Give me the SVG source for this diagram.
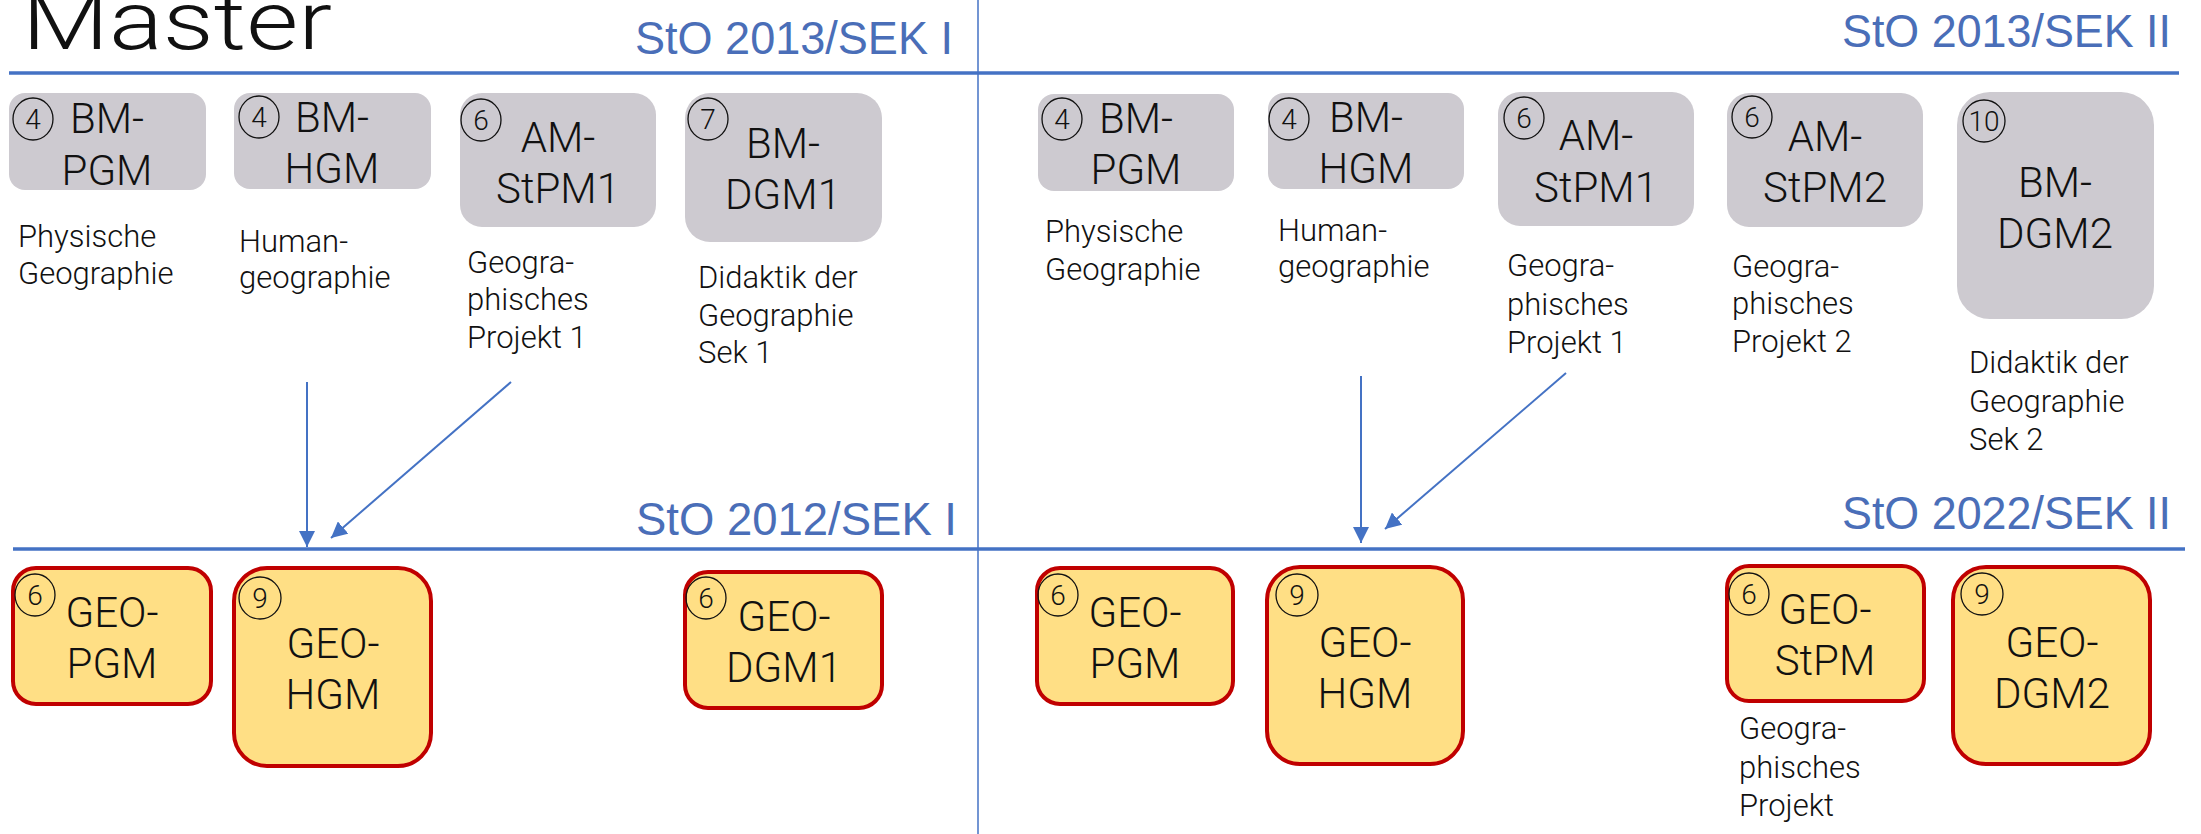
<svg xmlns="http://www.w3.org/2000/svg" width="2201" height="834" viewBox="0 0 2201 834">
<style>
.bg{fill:#ffffff}
.gray{fill:#CDCAD0}
.yel{fill:#FFDF85;stroke:#C00000;stroke-width:4}
.rule{stroke:#4472C4;stroke-width:3.5;fill:none}
.vrule{stroke:#4472C4;stroke-width:1.5;fill:none}
.conn{stroke:#4472C4;stroke-width:2;fill:none}
.lbl{font-family:"Liberation Sans",Arial,sans-serif;font-size:46px;fill:#4A6EB8}
.t{font-family:Roboto,"DejaVu Sans",sans-serif;font-weight:300;fill:#111}
.big{font-size:42px;text-anchor:middle}
.desc{font-size:31px}
.num{font-size:28px;text-anchor:middle}
.circ{fill:none;stroke:#111;stroke-width:1.3}
</style>
<defs>
<marker id="ah" viewBox="0 0 10 10" refX="10" refY="5" markerWidth="16" markerHeight="16" markerUnits="userSpaceOnUse" orient="auto">
<path d="M0,0 L10,5 L0,10 z" fill="#4472C4"/>
</marker>
</defs>
<rect class="bg" x="0" y="0" width="2201" height="834"/>

<g id="header">
<text class="t" x="22" y="49" font-size="82" textLength="310" lengthAdjust="spacingAndGlyphs">Master</text>
<text class="lbl" x="635" y="54" textLength="318" lengthAdjust="spacingAndGlyphs">StO 2013/SEK I</text>
<text class="lbl" x="1842" y="47" textLength="329" lengthAdjust="spacingAndGlyphs">StO 2013/SEK II</text>
<text class="lbl" x="636" y="535" textLength="321" lengthAdjust="spacingAndGlyphs">StO 2012/SEK I</text>
<text class="lbl" x="1842" y="529" textLength="329" lengthAdjust="spacingAndGlyphs">StO 2022/SEK II</text>
<line class="rule" x1="9" y1="73" x2="2179" y2="73"/>
<line class="rule" x1="13" y1="549" x2="2185" y2="549"/>
<line class="vrule" x1="978" y1="0" x2="978" y2="834"/>
</g>

<!-- upper gray nodes, left -->
<g id="n-bm-pgm-1">
<rect class="gray" x="9" y="93" width="197" height="97" rx="16"/>
<ellipse class="circ" cx="33" cy="119" rx="20" ry="21"/>
<text class="t num" x="33" y="129">4</text>
<text class="t big" x="107" y="133">BM-</text>
<text class="t big" x="107" y="185">PGM</text>
<text class="t desc" x="18" y="247">Physische</text>
<text class="t desc" x="18" y="284">Geographie</text>
</g>
<g id="n-bm-hgm-1">
<rect class="gray" x="234" y="93" width="197" height="96" rx="16"/>
<ellipse class="circ" cx="259" cy="117" rx="20" ry="21"/>
<text class="t num" x="259" y="127">4</text>
<text class="t big" x="332" y="132">BM-</text>
<text class="t big" x="332" y="183">HGM</text>
<text class="t desc" x="239" y="252">Human-</text>
<text class="t desc" x="239" y="288">geographie</text>
</g>
<g id="n-am-stpm1-1">
<rect class="gray" x="460" y="93" width="196" height="134" rx="22"/>
<ellipse class="circ" cx="481" cy="120" rx="20" ry="21"/>
<text class="t num" x="481" y="130">6</text>
<text class="t big" x="558" y="152">AM-</text>
<text class="t big" x="558" y="203">StPM1</text>
<text class="t desc" x="467" y="273">Geogra-</text>
<text class="t desc" x="467" y="310">phisches</text>
<text class="t desc" x="467" y="348">Projekt 1</text>
</g>
<g id="n-bm-dgm1">
<rect class="gray" x="685" y="93" width="197" height="149" rx="25"/>
<ellipse class="circ" cx="708" cy="119" rx="20" ry="21"/>
<text class="t num" x="708" y="129">7</text>
<text class="t big" x="783" y="158">BM-</text>
<text class="t big" x="783" y="209">DGM1</text>
<text class="t desc" x="698" y="288">Didaktik der</text>
<text class="t desc" x="698" y="326">Geographie</text>
<text class="t desc" x="698" y="363">Sek 1</text>
</g>

<!-- upper gray nodes, right -->
<g id="n-bm-pgm-2">
<rect class="gray" x="1038" y="94" width="196" height="97" rx="16"/>
<ellipse class="circ" cx="1062" cy="119" rx="20" ry="21"/>
<text class="t num" x="1062" y="129">4</text>
<text class="t big" x="1136" y="133">BM-</text>
<text class="t big" x="1136" y="184">PGM</text>
<text class="t desc" x="1045" y="242">Physische</text>
<text class="t desc" x="1045" y="280">Geographie</text>
</g>
<g id="n-bm-hgm-2">
<rect class="gray" x="1268" y="93" width="196" height="96" rx="16"/>
<ellipse class="circ" cx="1289" cy="119" rx="20" ry="21"/>
<text class="t num" x="1289" y="129">4</text>
<text class="t big" x="1366" y="132">BM-</text>
<text class="t big" x="1366" y="183">HGM</text>
<text class="t desc" x="1278" y="241">Human-</text>
<text class="t desc" x="1278" y="277">geographie</text>
</g>
<g id="n-am-stpm1-2">
<rect class="gray" x="1498" y="92" width="196" height="134" rx="22"/>
<ellipse class="circ" cx="1524" cy="118" rx="20" ry="21"/>
<text class="t num" x="1524" y="128">6</text>
<text class="t big" x="1596" y="150">AM-</text>
<text class="t big" x="1596" y="202">StPM1</text>
<text class="t desc" x="1507" y="276">Geogra-</text>
<text class="t desc" x="1507" y="315">phisches</text>
<text class="t desc" x="1507" y="353">Projekt 1</text>
</g>
<g id="n-am-stpm2">
<rect class="gray" x="1727" y="93" width="196" height="134" rx="22"/>
<ellipse class="circ" cx="1752" cy="117" rx="20" ry="21"/>
<text class="t num" x="1752" y="127">6</text>
<text class="t big" x="1825" y="151">AM-</text>
<text class="t big" x="1825" y="202">StPM2</text>
<text class="t desc" x="1732" y="277">Geogra-</text>
<text class="t desc" x="1732" y="314">phisches</text>
<text class="t desc" x="1732" y="352">Projekt 2</text>
</g>
<g id="n-bm-dgm2">
<rect class="gray" x="1957" y="92" width="197" height="227" rx="33"/>
<ellipse class="circ" cx="1984" cy="121" rx="21" ry="21"/>
<text class="t num" x="1984" y="131" font-size="26">10</text>
<text class="t big" x="2055" y="197">BM-</text>
<text class="t big" x="2055" y="248">DGM2</text>
<text class="t desc" x="1969" y="373">Didaktik der</text>
<text class="t desc" x="1969" y="412">Geographie</text>
<text class="t desc" x="1969" y="450">Sek 2</text>
</g>

<!-- lower yellow nodes, left -->
<g id="n-geo-pgm-1">
<rect class="yel" x="13" y="568" width="198" height="136" rx="23"/>
<ellipse class="circ" cx="35" cy="595" rx="20" ry="21"/>
<text class="t num" x="35" y="605">6</text>
<text class="t big" x="112" y="627">GEO-</text>
<text class="t big" x="112" y="678">PGM</text>
</g>
<g id="n-geo-hgm-1">
<rect class="yel" x="234" y="568" width="197" height="198" rx="33"/>
<ellipse class="circ" cx="260" cy="598" rx="21" ry="21"/>
<text class="t num" x="260" y="608">9</text>
<text class="t big" x="333" y="658">GEO-</text>
<text class="t big" x="333" y="709">HGM</text>
</g>
<g id="n-geo-dgm1">
<rect class="yel" x="685" y="572" width="197" height="136" rx="23"/>
<ellipse class="circ" cx="706" cy="598" rx="20" ry="21"/>
<text class="t num" x="706" y="608">6</text>
<text class="t big" x="784" y="631">GEO-</text>
<text class="t big" x="784" y="682">DGM1</text>
</g>

<!-- lower yellow nodes, right -->
<g id="n-geo-pgm-2">
<rect class="yel" x="1037" y="568" width="196" height="136" rx="23"/>
<ellipse class="circ" cx="1058" cy="595" rx="20" ry="21"/>
<text class="t num" x="1058" y="605">6</text>
<text class="t big" x="1135" y="627">GEO-</text>
<text class="t big" x="1135" y="678">PGM</text>
</g>
<g id="n-geo-hgm-2">
<rect class="yel" x="1267" y="567" width="196" height="197" rx="33"/>
<ellipse class="circ" cx="1297" cy="595" rx="21" ry="21"/>
<text class="t num" x="1297" y="605">9</text>
<text class="t big" x="1365" y="657">GEO-</text>
<text class="t big" x="1365" y="708">HGM</text>
</g>
<g id="n-geo-stpm">
<rect class="yel" x="1727" y="566" width="197" height="135" rx="22"/>
<ellipse class="circ" cx="1749" cy="594" rx="20" ry="21"/>
<text class="t num" x="1749" y="604">6</text>
<text class="t big" x="1825" y="624">GEO-</text>
<text class="t big" x="1825" y="675">StPM</text>
<text class="t desc" x="1739" y="739">Geogra-</text>
<text class="t desc" x="1739" y="778">phisches</text>
<text class="t desc" x="1739" y="816">Projekt</text>
</g>
<g id="n-geo-dgm2">
<rect class="yel" x="1953" y="567" width="197" height="197" rx="33"/>
<ellipse class="circ" cx="1982" cy="594" rx="21" ry="21"/>
<text class="t num" x="1982" y="604">9</text>
<text class="t big" x="2052" y="657">GEO-</text>
<text class="t big" x="2052" y="708">DGM2</text>
</g>

<g id="connectors">
<line class="conn" x1="307" y1="382" x2="307" y2="547" marker-end="url(#ah)"/>
<line class="conn" x1="511" y1="382" x2="331" y2="538" marker-end="url(#ah)"/>
<line class="conn" x1="1361" y1="376" x2="1361" y2="543" marker-end="url(#ah)"/>
<line class="conn" x1="1566" y1="373" x2="1385" y2="529" marker-end="url(#ah)"/>
</g>
</svg>
